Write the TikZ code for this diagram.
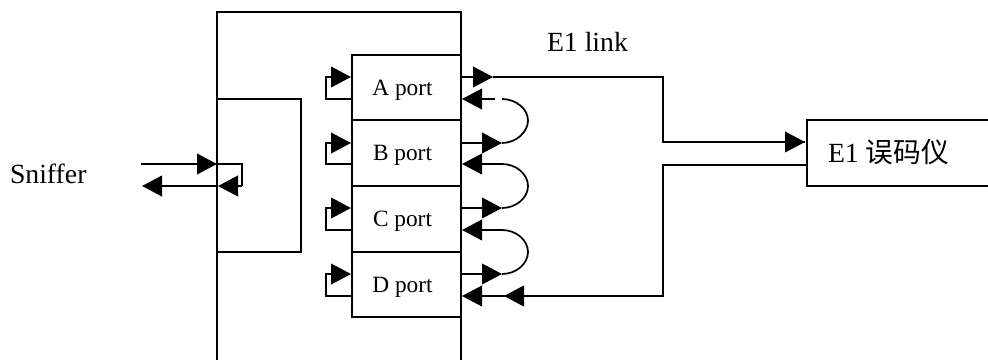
\documentclass[tikz,border=0pt]{standalone}
\usepackage{fontspec}
\setmainfont{Liberation Serif}
\newfontfamily\cjkfont{Noto Sans CJK SC}
\usetikzlibrary{arrows.meta}
\tikzset{
  wire/.style={line width=1.3pt,line join=miter},
  arr/.style={wire,-{Triangle[length=15pt,width=15.5pt]},shorten >=0pt},
  portbox/.style={draw,line width=1.3pt,minimum width=81.75pt,minimum height=48.75pt,inner sep=0pt,outer sep=0pt,text depth=0pt,font=\fontsize{17.5}{20}\selectfont},
  lab/.style={inner sep=0pt,outer sep=0pt,anchor=base west,font=\fontsize{20.8}{24}\selectfont}
}
\begin{document}
\begin{tikzpicture}[x=0.75pt,y=-0.75pt]
\useasboundingbox (0,0) rectangle (988,360);
% fixed corners of the open outlines
\coordinate (bl) at (217,360); \coordinate (tl) at (217,12);
\coordinate (tr) at (461,12);  \coordinate (br) at (461,360);
\coordinate (il1) at (217,99); \coordinate (ir1) at (301,99);
\coordinate (ir2) at (301,252); \coordinate (il2) at (217,252);
\draw[wire] (bl) -- (tl) -- (tr) -- (br);
\draw[wire] (il1) -- (ir1) -- (ir2) -- (il2);
% ports
\node[portbox] (pa) at (406.5,87.5) {A port\kern6pt};
\node[portbox] (pb) at (406.5,153) {B port\kern6pt};
\node[portbox] (pc) at (406.5,219) {C port\kern6pt};
\node[portbox] (pd) at (406.5,284.5) {D port\kern6pt};
% tester
\coordinate (et) at (988,120); \coordinate (eb) at (988,186);
\coordinate (etl) at (807,120); \coordinate (ebl) at (807,186);
\draw[wire] (et) -- (etl) -- (ebl) -- (eb);
\node[lab] (tester) at (828,162) {E1 {\cjkfont\fontsize{20.8}{24}\selectfont 误码仪}};
\node[lab] (link) at (547,52) {E1 link};
\node[lab] (sniff) at (10,183) {Sniffer};
% sniffer loop
\coordinate (s1) at (141,164); \coordinate (s2) at (217,164);
\coordinate (s3) at (242,164); \coordinate (s4) at (242,186);
\coordinate (s5) at (218,186); \coordinate (s6) at (142,186);
\draw[arr] (s1) -- (s2);
\draw[wire] (s2) -- (s3) -- (s4);
\draw[arr] (s4) -- (s5);
\draw[arr] (s5) -- (s6);
% left loops
\foreach \n/\a/\b in {a/77/99,b/143/164,c/208/230,d/274/296}{
  \coordinate (l\n1) at (352,\b);
  \coordinate (l\n2) at (326,\b);
  \coordinate (l\n3) at (326,\a);
  \coordinate (l\n4) at (351,\a);
  \draw[arr] (l\n1) -- (l\n2) -- (l\n3) -- (l\n4);
}
% right side ports
\coordinate (ao) at (461,77);  \coordinate (aot) at (493,77);
\coordinate (c1) at (663,77);  \coordinate (c2) at (663,142);
\coordinate (c3) at (805,142);
\draw[arr] (ao) -- (aot);
\draw[wire] (aot) -- (c1) -- (c2) -- (c3);
\draw[arr] (c2) -- (c3);
\coordinate (r1) at (807,165); \coordinate (r2) at (663,165);
\coordinate (r3) at (663,296); \coordinate (r4) at (504,296); \coordinate (r5) at (462,296);
\draw[wire] (r1) -- (r2) -- (r3) -- (r4);
\draw[arr] (r3) -- (r4);
\draw[arr] (r4) -- (r5);
% A in, dashed gap
\coordinate (ai) at (462,99); \coordinate (ai2) at (495,99);
\coordinate (aj) at (502,99);
\draw[arr] (ai2) -- (ai);
% arcs and outs
\coordinate (bo) at (461,143); \coordinate (bot) at (502,143);
\coordinate (bi) at (462,164); \coordinate (bj) at (502,164);
\coordinate (co) at (461,208); \coordinate (cot) at (502,208);
\coordinate (ci) at (462,230); \coordinate (cj) at (502,230);
\coordinate (do) at (461,274); \coordinate (dot) at (502,274);
\draw[arr] (bo) -- (bot);
\draw[arr] (co) -- (cot);
\draw[arr] (do) -- (dot);
\draw[arr] (bj) -- (bi);
\draw[arr] (cj) -- (ci);
\draw[wire] (aj) .. controls (516,99) and (528,109) .. (528,120.5) .. controls (528,132) and (516,143) .. (bot);
\draw[wire] (bj) .. controls (516,164) and (528,174) .. (528,186) .. controls (528,198) and (516,208) .. (cot);
\draw[wire] (cj) .. controls (516,230) and (528,240) .. (528,252) .. controls (528,264) and (516,274) .. (dot);
\end{tikzpicture}
\end{document}
